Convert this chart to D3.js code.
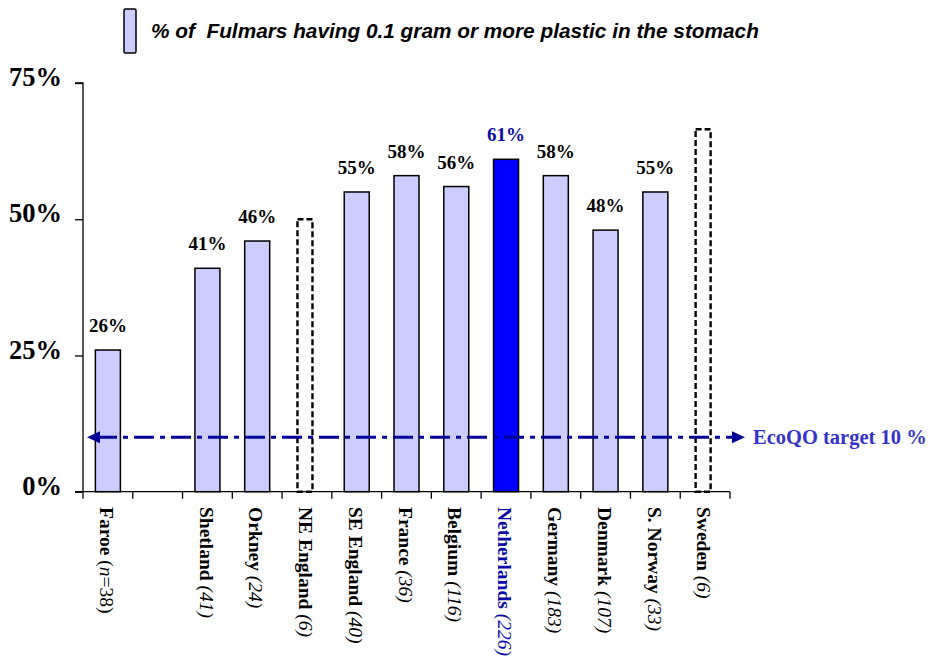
<!DOCTYPE html>
<html>
<head>
<meta charset="utf-8">
<script src="https://cdn.jsdelivr.net/npm/d3@7"></script>
<style>
  html, body { margin: 0; padding: 0; background: #fff; }
  svg { display: block; }
</style>
</head>
<body>
<svg id="chart" width="932" height="668"></svg>
<script>
// Sampling regions along the North Sea, in display order ("" is an empty gap slot)
const regions   = ["Faroe", "", "Shetland", "Orkney", "NE England", "SE England", "France",
                   "Belgium", "Netherlands", "Germany", "Denmark", "S. Norway", "Sweden"];
const sampleN   = ["(n=38)", "", "(41)", "(24)", "(6)", "(40)", "(36)",
                   "(116)", "(226)", "(183)", "(107)", "(33)", "(6)"];
// % of fulmars with >= 0.1 g plastic (null = no solid bar)
const pctPlastic = [26, null, 41, 46, null, 55, 58, 56, 61, 58, 48, 55, null];
// Small-sample regions drawn as dashed outlines
const smallSample = [null, null, null, null, 50, null, null, null, null, null, null, null, 66.5];
const yTicks = [0, 25, 50, 75];
const targetPct = 10;
const highlight = "Netherlands";

const svg = d3.select("#chart");
const x = d3.scaleBand().domain(d3.range(regions.length)).range([83, 730]).paddingInner(0).paddingOuter(0);
const y = d3.scaleLinear().domain([0, 75]).range([491.7, 83]);

const serif = "'Liberation Serif', 'Times New Roman', serif";
const barW = 25, dashW = 15;

// Legend
svg.append("rect").attr("x", 124).attr("y", 9).attr("width", 12).attr("height", 44)
  .attr("rx", 1.5).attr("fill", "#ccccff").attr("stroke", "#000").attr("stroke-width", 1.5);
svg.append("text").attr("x", 151).attr("y", 38)
  .attr("font-family", "'Liberation Sans', Arial, sans-serif")
  .attr("font-weight", "bold").attr("font-style", "italic").attr("font-size", 20.8)
  .attr("fill", "#000")
  .text("% of  Fulmars having 0.1 gram or more plastic in the stomach")
  .style("white-space", "pre");

// Y axis
const yAxis = svg.append("g").attr("transform", `translate(${x.range()[0]},0)`)
  .call(d3.axisLeft(y).tickValues(yTicks).tickSize(8).tickFormat(d => d + "%"));
yAxis.select(".domain").attr("stroke", "#000").attr("stroke-width", 1.3).attr("d", `M-8,${y(75)}H0V${y(0)}`);
yAxis.selectAll(".tick line").attr("stroke", "#000").attr("stroke-width", 1.3);
yAxis.selectAll(".tick text")
  .attr("x", -21).attr("dy", "0.1em")
  .attr("font-family", serif).attr("font-weight", "bold").attr("font-size", 26.5).attr("fill", "#000");

// X axis: baseline with ticks at band boundaries
const xAxisG = svg.append("g");
xAxisG.append("line").attr("x1", x.range()[0] - 8).attr("x2", x.range()[1])
  .attr("y1", y(0)).attr("y2", y(0)).attr("stroke", "#000").attr("stroke-width", 1.3);
const bounds = d3.range(regions.length + 1).map(i => x.range()[0] + i * x.step());
xAxisG.selectAll("line.tk").data(bounds).join("line").attr("class", "tk")
  .attr("x1", d => d).attr("x2", d => d).attr("y1", y(0)).attr("y2", y(0) + 7)
  .attr("stroke", "#000").attr("stroke-width", 1.3);

// Bars
const rows = regions.map((r, i) => ({ i, r, v: pctPlastic[i], s: smallSample[i], n: sampleN[i] }));
svg.append("g").selectAll("rect").data(rows.filter(d => d.v != null)).join("rect")
  .attr("x", d => x(d.i) + x.bandwidth() / 2 - barW / 2)
  .attr("width", barW)
  .attr("y", d => y(d.v))
  .attr("height", d => y(0) - y(d.v))
  .attr("fill", d => d.r === highlight ? "#0000ff" : "#ccccff")
  .attr("stroke", "#000").attr("stroke-width", 1.5);

// Dashed outlines for small samples
svg.append("g").selectAll("rect").data(rows.filter(d => d.s != null)).join("rect")
  .attr("x", d => x(d.i) + x.bandwidth() / 2 - dashW / 2 - 2)
  .attr("width", dashW)
  .attr("y", d => y(d.s))
  .attr("height", d => y(0) - y(d.s))
  .attr("fill", "none").attr("stroke", "#000").attr("stroke-width", 2.4)
  .attr("stroke-dasharray", "6,3");

// Value labels
svg.append("g").selectAll("text").data(rows.filter(d => d.v != null)).join("text")
  .attr("x", d => x(d.i) + x.bandwidth() / 2)
  .attr("y", d => y(d.v) - 18)
  .attr("text-anchor", "middle")
  .attr("font-family", serif).attr("font-weight", "bold").attr("font-size", 19)
  .attr("fill", d => d.r === highlight ? "#0a0aa8" : "#000")
  .text(d => d.v + "%");

// Category labels, rotated to read downward
const labels = svg.append("g").selectAll("text").data(rows.filter(d => d.r !== "")).join("text")
  .attr("transform", d => `translate(${x(d.i) + x.bandwidth() / 2 - 1},507) rotate(90)`)
  .attr("dy", "0.35em")
  .attr("font-family", serif).attr("font-size", 19.5)
  .attr("fill", d => d.r === highlight ? "#0a0aa8" : "#000");
labels.append("tspan").attr("font-weight", "bold").text(d => d.r + " ");
labels.each(function(d) {
  const t = d3.select(this);
  if (d.n.startsWith("(n=")) {
    t.append("tspan").text("(");
    t.append("tspan").attr("font-style", "italic").text("n");
    t.append("tspan").text(d.n.slice(2));
  } else {
    t.append("tspan").attr("font-style", "italic").text(d.n);
  }
});

// EcoQO target line with arrows on both ends
const navy = "#000099";
const ty = y(targetPct);
const lx0 = x.range()[0] + 4, lx1 = x.range()[1] + 15;
svg.append("line").attr("x1", lx0 + 10).attr("x2", lx1 - 10).attr("y1", ty).attr("y2", ty)
  .attr("stroke", navy).attr("stroke-width", 3)
  .attr("stroke-dasharray", "20,6,5,6");
svg.append("path").attr("d", `M${lx0},${ty}L${lx0 + 13},${ty - 6}L${lx0 + 13},${ty + 6}Z`).attr("fill", navy);
svg.append("path").attr("d", `M${lx1},${ty}L${lx1 - 13},${ty - 6}L${lx1 - 13},${ty + 6}Z`).attr("fill", navy);
svg.append("text").attr("x", lx1 + 8).attr("y", ty + 7)
  .attr("font-family", serif).attr("font-weight", "bold").attr("font-size", 20.5)
  .attr("fill", "#3333cc")
  .text("EcoQO target " + targetPct + " %");
</script>
</body>
</html>
